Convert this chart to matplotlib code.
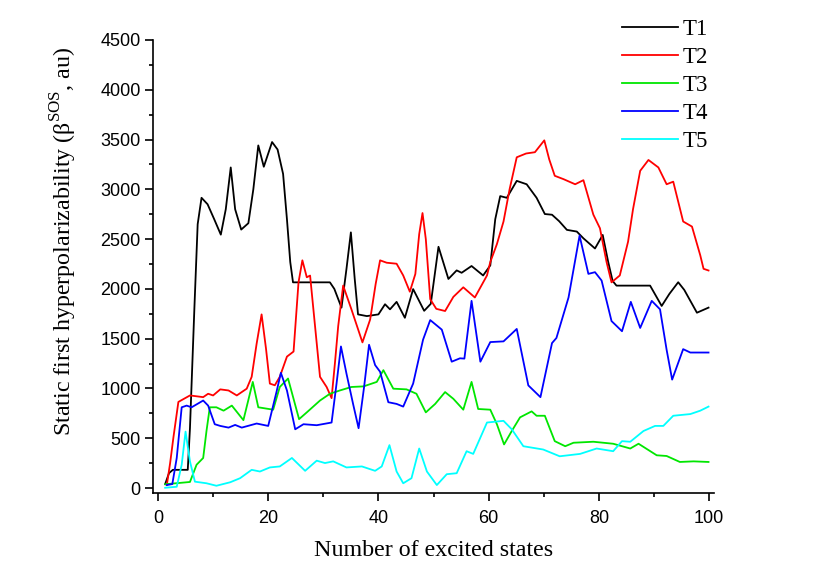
import matplotlib
matplotlib.use('Agg')
import matplotlib.pyplot as plt
from matplotlib.ticker import MultipleLocator

# values
t1_x = [1.3, 2.0, 2.7, 5.4, 5.8, 6.6, 7.2, 7.9, 9.0, 10.2, 11.4, 12.3, 13.2, 14.0, 15.1, 16.4, 17.3, 18.2,
        19.2, 20.7, 21.7, 22.7, 23.4, 24.0, 24.5, 31.2, 32.0, 33.3, 34.2, 35.0, 35.7, 36.3, 37.9, 40.0, 41.2,
        42.1, 43.3, 44.8, 46.3, 48.3, 49.5, 50.9, 52.7, 54.2, 55.1, 56.9, 59.0, 60.3, 61.2, 62.1, 63.3, 65.1,
        66.9, 68.7, 70.2, 71.5, 72.8, 74.2, 76.0, 77.2, 79.3, 80.7, 81.7, 82.5, 83.2, 89.3, 91.4, 92.8, 94.4,
        95.5, 97.8, 99.9]
t1_y = [40, 150, 183, 183, 600, 1800, 2650, 2915, 2850, 2700, 2545, 2800, 3220, 2800, 2596, 2660, 3000, 3441,
        3227, 3475, 3400, 3155, 2700, 2270, 2066, 2066, 2000, 1812, 2200, 2568, 2100, 1744, 1727, 1744, 1846,
        1795, 1870, 1710, 1998, 1780, 1850, 2423, 2100, 2186, 2162, 2230, 2135, 2236, 2700, 2932, 2915, 3085,
        3051, 2915, 2752, 2745, 2680, 2593, 2576, 2508, 2406, 2542, 2270, 2080, 2033, 2033, 1829, 1950, 2067,
        1990, 1761, 1812]

t2_x = [1.6, 2.2, 2.8, 3.7, 5.8, 8.2, 9.1, 10.0, 11.3, 12.8, 14.3, 16.1, 17.0, 17.9, 18.8, 19.6, 20.3, 21.2,
        22.1, 23.4, 24.6, 25.5, 26.2, 27.0, 27.6, 28.2, 29.4, 30.6, 31.5, 32.1, 32.7, 33.6, 35.1, 37.1, 38.5,
        39.5, 40.3, 41.5, 43.3, 44.5, 45.7, 46.7, 47.4, 48.0, 48.6, 49.4, 50.5, 52.1, 53.6, 55.4, 57.5, 59.7,
        60.3, 61.5, 62.7, 63.8, 65.1, 66.8, 68.4, 70.1, 71.0, 72.0, 73.6, 75.7, 77.2, 79.0, 80.2, 81.4, 82.3,
        83.8, 85.3, 86.2, 87.5, 89.0, 90.8, 92.3, 93.5, 95.3, 96.9, 98.4, 99.0, 99.9]
t2_y = [30, 250, 509, 865, 930, 913, 947, 930, 991, 980, 930, 998, 1117, 1450, 1744, 1400, 1049, 1032,
        1117, 1320, 1371, 2066, 2287, 2117, 2134, 1795, 1117, 1015, 903, 1250, 1626, 2033, 1795, 1463, 1693,
        2050, 2287, 2263, 2253, 2135, 1972, 2150, 2550, 2762, 2500, 1897, 1800, 1778, 1920, 2016, 1914, 2135,
        2270, 2450, 2677, 3000, 3322, 3360, 3373, 3492, 3300, 3136, 3102, 3051, 3092, 2746, 2609, 2270, 2066,
        2135, 2474, 2800, 3186, 3295, 3220, 3051, 3077, 2677, 2626, 2338, 2202, 2185]

t3_x = [1.3, 5.8, 7.0, 8.2, 8.8, 9.4, 10.6, 11.9, 13.4, 15.5, 17.2, 18.2, 20.9, 22.1, 23.6, 25.6, 27.0, 29.4,
        31.2, 33.0, 35.1, 37.3, 39.7, 40.9, 42.7, 45.1, 46.9, 48.6, 50.3, 52.1, 53.6, 55.4, 56.9, 58.1, 60.3,
        61.5, 62.8, 64.2, 65.7, 67.8, 68.7, 70.2, 72.0, 73.9, 75.4, 79.0, 82.6, 85.7, 87.2, 90.5, 92.3, 94.7,
        97.2, 99.9]
t3_y = [38, 61, 234, 302, 573, 811, 811, 777, 828, 682, 1066, 811, 787, 1015, 1100, 692, 760, 879,
        947, 980, 1015, 1021, 1066, 1184, 998, 991, 947, 760, 845, 964, 896, 787, 1066, 794, 787,
        641, 438, 573, 710, 770, 726, 726, 471, 420, 455, 465, 445, 397, 445, 329, 322, 262,
        268, 262]

t4_x = [1.6, 2.6, 3.4, 4.3, 5.2, 6.1, 8.2, 9.1, 10.3, 11.3, 12.8, 14.0, 15.2, 17.9, 20.0, 21.5, 22.3, 23.4,
        24.9, 26.4, 28.8, 31.5, 32.4, 33.2, 34.2, 35.4, 36.4, 37.4, 38.3, 39.4, 40.3, 41.8, 43.3, 44.5, 46.3,
        48.1, 49.4, 51.5, 53.3, 54.8, 55.6, 56.9, 58.5, 60.3, 62.7, 65.1, 67.2, 69.4, 71.5, 72.3, 74.5, 76.5,
        78.1, 79.3, 80.5, 82.3, 84.2, 85.8, 87.5, 89.6, 91.1, 92.3, 93.3, 95.3, 96.6, 99.9]
t4_y = [30, 40, 302, 811, 828, 811, 879, 828, 641, 624, 607, 634, 607, 648, 624, 964, 1157, 980,
        590, 641, 631, 658, 1049, 1422, 1150, 845, 601, 1015, 1439, 1235, 1168, 862, 845, 818, 1049,
        1490, 1687, 1591, 1269, 1303, 1300, 1880, 1269, 1466, 1473, 1598, 1031, 913, 1456, 1507, 1914, 2535,
        2151, 2168, 2084, 1677, 1575, 1870, 1608, 1880, 1795, 1388, 1089, 1395, 1361, 1361]

t5_x = [1.3, 3.4, 4.3, 5.0, 5.8, 6.7, 8.8, 10.6, 13.1, 14.9, 17.0, 18.5, 20.3, 22.1, 24.3, 26.7, 28.8, 30.3,
        31.8, 34.2, 37.0, 39.4, 40.6, 42.0, 43.3, 44.5, 46.0, 47.4, 48.8, 50.6, 52.4, 54.2, 56.0, 57.2, 59.7,
        62.7, 64.2, 66.3, 69.9, 72.9, 76.6, 79.6, 82.6, 84.2, 85.7, 88.1, 90.2, 91.7, 93.5, 96.6, 98.4, 99.9]
t5_y = [3, 13, 234, 567, 268, 64, 48, 23, 58, 99, 183, 166, 207, 217, 302, 173, 275, 251,
        268, 207, 217, 173, 217, 431, 166, 48, 99, 397, 166, 30, 139, 149, 370, 343, 658,
        675, 590, 420, 387, 319, 343, 397, 370, 471, 465, 573, 624, 624, 726, 743, 777, 818]

series = [
    ('T1', t1_x, t1_y, 'black'),
    ('T2', t2_x, t2_y, '#ff0000'),
    ('T3', t3_x, t3_y, '#00e600'),
    ('T4', t4_x, t4_y, '#0000ff'),
    ('T5', t5_x, t5_y, '#00ffff'),
]

plt.rcParams['mathtext.fontset'] = 'custom'
plt.rcParams['mathtext.rm'] = 'Liberation Serif'

fig = plt.figure(figsize=(8.21, 5.68), dpi=100)
ax = fig.add_axes([0.1864, 0.132, 0.6833, 0.7976])

for name, xs, ys, col in series:
    ax.plot(xs, ys, color=col, lw=1.3, label=name)

ax.set_xlim(-0.9, 100.9)
ax.set_ylim(-50, 4500)
ax.xaxis.set_major_locator(MultipleLocator(20))
ax.xaxis.set_minor_locator(MultipleLocator(10))
ax.yaxis.set_major_locator(MultipleLocator(500))
ax.yaxis.set_minor_locator(MultipleLocator(250))

for side in ['top', 'right']:
    ax.spines[side].set_visible(False)
for side in ['left', 'bottom']:
    ax.spines[side].set_linewidth(1.2)

ax.tick_params(which='major', direction='out', length=5.5, width=1.2,
               labelsize=13, labelfontfamily='Liberation Sans')
ax.tick_params(which='minor', direction='out', length=3, width=1.2)
ax.tick_params(axis='x', which='major', pad=6.5)

ax.set_xlabel('Number of excited states', fontsize=17.3, family='Liberation Serif')
ax.set_ylabel(r'Static first hyperpolarizability (β$^{\mathrm{SOS}}$, au)', fontsize=17.3,
              family='Liberation Serif')
ax.xaxis.set_label_coords(0.5, -0.104)
ax.yaxis.set_label_coords(-0.132, 0.555)

ax.legend(loc='upper left', bbox_to_anchor=(0.7576, 0.966), bbox_transform=fig.transFigure,
          frameon=False, borderpad=0, borderaxespad=0, handlelength=2.45, handletextpad=0.2,
          labelspacing=0.3, prop={'family': 'Liberation Serif', 'size': 16.5})

fig.savefig('out.png', dpi=100)
